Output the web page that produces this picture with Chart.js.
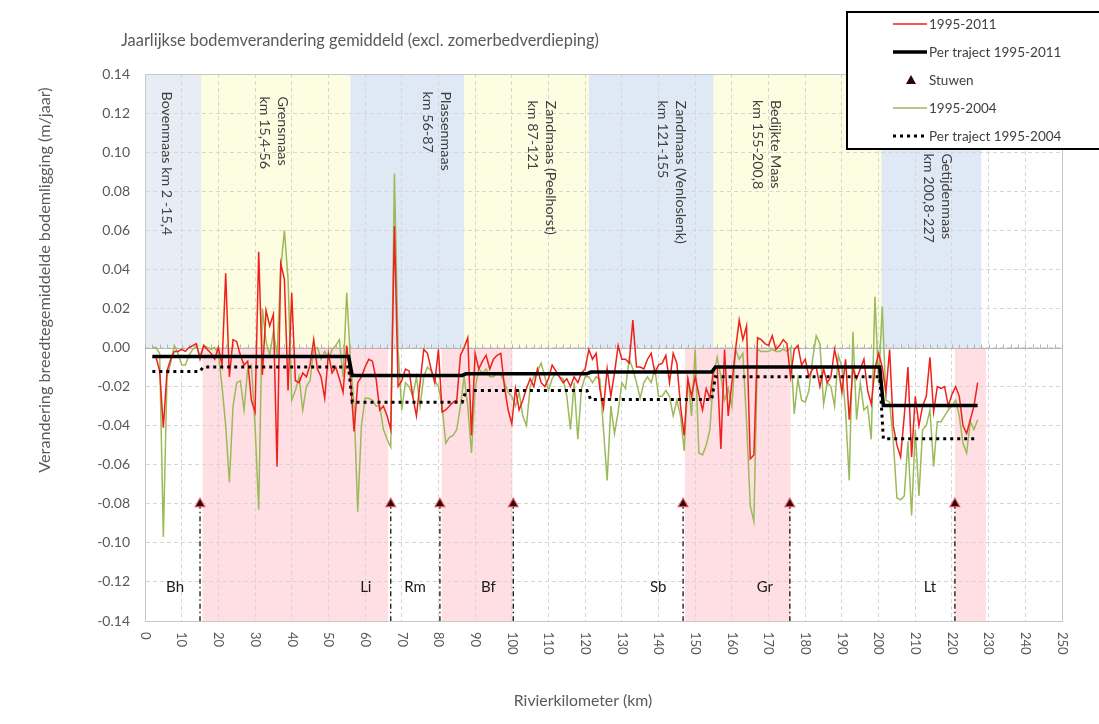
<!DOCTYPE html>
<html lang="nl">
<head>
<meta charset="utf-8">
<title>Jaarlijkse bodemverandering</title>
<script src="https://cdn.jsdelivr.net/npm/chart.js@4.4.1/dist/chart.umd.min.js"></script>
<style>
  html, body { margin: 0; padding: 0; background: #ffffff; }
  #holder { position: relative; width: 1099px; height: 724px; }
</style>
</head>
<body>
<div id="holder"><canvas id="chart" width="1099" height="724"></canvas></div>
<script>
// ---------------- data ----------------
// River kilometre of every cross-section average
const riverKm = [
  2,3,4,5,6,7,8,9,10,11,
  12,13,14,15,16,17,18,19,20,21,
  22,23,24,25,26,27,28,29,30,31,
  32,33,34,35,36,37,38,39,40,41,
  42,43,44,45,46,47,48,49,50,51,
  52,53,54,55,56,57,58,59,60,61,
  62,63,64,65,66,67,68,69,70,71,
  72,73,74,75,76,77,78,79,80,81,
  82,83,84,85,86,87,88,89,90,91,
  92,93,94,95,96,97,98,99,100,101,
  102,103,104,105,106,107,108,109,110,111,
  112,113,114,115,116,117,118,119,120,121,
  122,123,124,125,126,127,128,129,130,131,
  132,133,134,135,136,137,138,139,140,141,
  142,143,144,145,146,147,148,149,150,151,
  152,153,154,155,156,157,158,159,160,161,
  162,163,164,165,166,167,168,169,170,171,
  172,173,174,175,176,177,178,179,180,181,
  182,183,184,185,186,187,188,189,190,191,
  192,193,194,195,196,197,198,199,200,201,
  202,203,204,205,206,207,208,209,210,211,
  212,213,214,215,216,217,218,219,220,221,
  222,223,224,225,226,227
];

// Yearly bed level change (m/jaar), 1995-2011
const change1995_2011 = [
  -0.005,-0.005,-0.012,-0.041,-0.012,-0.006,-0.002,-0.002,-0.001,-0.002,
  0.000,0.001,0.002,-0.006,0.001,-0.001,-0.003,-0.006,0.000,-0.009,
  0.038,-0.015,0.004,0.003,-0.004,-0.009,-0.007,-0.027,-0.033,0.049,
  -0.014,0.019,0.011,0.017,-0.061,0.043,0.035,-0.022,0.028,-0.017,
  -0.018,-0.013,-0.015,-0.009,0.004,-0.011,-0.015,-0.026,-0.003,-0.013,
  -0.010,-0.016,-0.023,0.001,-0.016,-0.043,-0.018,-0.015,-0.010,-0.006,
  -0.007,-0.016,-0.032,-0.030,-0.035,-0.042,0.062,-0.020,-0.017,-0.011,
  -0.012,-0.025,-0.035,-0.018,-0.001,-0.003,-0.011,-0.018,-0.001,-0.033,
  -0.032,-0.030,-0.028,-0.027,-0.004,0.000,0.005,-0.045,-0.003,-0.011,
  -0.007,-0.004,-0.011,-0.006,-0.004,-0.003,-0.020,-0.032,-0.039,-0.021,
  -0.032,-0.027,-0.021,-0.016,-0.020,-0.011,-0.018,-0.020,-0.016,-0.009,
  -0.012,-0.015,-0.018,-0.016,-0.020,-0.015,-0.018,-0.013,-0.011,-0.001,
  -0.006,-0.003,-0.021,-0.031,-0.011,-0.025,-0.013,0.001,-0.006,-0.006,
  -0.008,0.014,-0.010,-0.010,-0.011,-0.006,-0.003,-0.013,-0.009,-0.008,
  -0.004,-0.018,-0.003,-0.008,-0.030,-0.045,-0.016,-0.025,-0.015,-0.024,
  -0.032,-0.021,-0.026,-0.011,-0.010,-0.052,-0.001,-0.035,-0.018,-0.001,
  0.014,0.004,0.011,-0.057,-0.055,0.005,0.004,0.002,0.001,0.006,
  -0.001,0.001,0.004,0.002,-0.015,-0.001,0.001,-0.009,-0.006,-0.015,
  -0.011,-0.010,-0.020,-0.011,-0.018,-0.015,-0.001,-0.010,-0.023,-0.006,
  -0.037,-0.011,-0.016,-0.011,-0.006,-0.022,-0.029,-0.011,-0.003,-0.010,
  -0.023,-0.001,-0.040,-0.050,-0.056,-0.035,-0.010,-0.056,-0.025,-0.040,
  -0.030,-0.025,-0.005,-0.033,-0.020,-0.021,-0.020,-0.030,-0.024,-0.020,
  -0.025,-0.040,-0.044,-0.037,-0.030,-0.018
];

// Yearly bed level change (m/jaar), 1995-2004
const change1995_2004 = [
  0.000,0.000,-0.003,-0.097,-0.015,-0.008,0.001,-0.003,-0.009,-0.009,
  -0.004,-0.001,0.001,-0.004,0.001,0.000,-0.001,0.000,-0.003,-0.020,
  -0.040,-0.069,-0.030,-0.018,-0.017,-0.032,-0.011,-0.009,-0.040,-0.083,
  0.020,0.003,-0.004,0.008,-0.004,0.040,0.060,0.035,-0.027,-0.022,
  -0.015,-0.032,-0.020,-0.017,-0.001,0.000,-0.006,-0.002,-0.006,-0.001,
  0.001,0.004,-0.015,0.028,-0.006,-0.030,-0.084,-0.040,-0.026,-0.026,
  -0.027,-0.030,-0.030,-0.042,-0.047,-0.051,0.089,-0.001,-0.032,-0.018,
  -0.020,-0.025,-0.015,-0.030,-0.015,-0.010,-0.012,-0.017,-0.020,-0.030,
  -0.049,-0.046,-0.045,-0.042,-0.030,-0.015,-0.030,-0.054,-0.021,-0.011,
  -0.013,-0.011,-0.015,-0.015,-0.013,-0.014,-0.018,-0.023,-0.025,-0.030,
  -0.023,-0.035,-0.040,-0.020,-0.015,-0.012,-0.008,-0.015,-0.022,-0.016,
  -0.013,-0.015,-0.016,-0.025,-0.042,-0.018,-0.047,-0.021,-0.015,-0.015,
  -0.018,-0.015,-0.016,-0.042,-0.068,-0.030,-0.044,-0.033,-0.018,-0.021,
  -0.006,-0.011,-0.018,-0.026,-0.018,-0.015,-0.018,-0.011,-0.025,-0.025,
  -0.022,-0.025,-0.035,-0.027,-0.035,-0.053,-0.015,-0.035,-0.001,-0.054,
  -0.055,-0.050,-0.042,-0.015,-0.005,-0.015,-0.027,-0.021,-0.030,-0.001,
  -0.006,-0.003,-0.038,-0.081,-0.089,-0.001,-0.002,-0.002,-0.002,-0.001,
  -0.002,-0.002,-0.001,-0.002,0.000,-0.034,-0.016,-0.027,-0.028,-0.022,
  -0.006,0.006,0.002,-0.029,-0.018,-0.020,-0.030,-0.004,-0.010,-0.033,
  -0.068,0.008,-0.037,-0.018,-0.032,-0.030,-0.047,0.026,-0.018,0.021,
  -0.027,-0.028,-0.048,-0.077,-0.078,-0.076,-0.048,-0.086,-0.042,-0.076,
  -0.042,-0.040,-0.032,-0.061,-0.038,-0.038,-0.035,-0.032,-0.030,-0.027,
  -0.035,-0.049,-0.054,-0.038,-0.042,-0.037
];

// Reach averages (traject boundaries in km, mean change per reach)
const reachBounds2011 = [2, 56, 87, 121, 155, 200.8, 227];
const reachMean2011   = [-0.0046, -0.0143, -0.0135, -0.0126, -0.0100, -0.0297];
const reachBounds2004 = [2, 15.4, 56, 87, 121, 155, 200.8, 227];
const reachMean2004   = [-0.0123, -0.0100, -0.0280, -0.0220, -0.0266, -0.0150, -0.0467];

// Weirs (stuwen)
const weirKm    = [15.0, 67.0, 80.4, 100.4, 146.7, 175.8, 220.8];
const weirLevel = [-0.08, -0.08, -0.08, -0.08, -0.08, -0.08, -0.08];
const weirCode  = ['Bh', 'Li', 'Rm', 'Bf', 'Sb', 'Gr', 'Lt'];

// River reaches shown as shaded columns in the upper half
const reachLabel = [
  ['Bovenmaas km 2 -15,4'],
  ['Grensmaas', 'km 15,4-56'],
  ['Plassenmaas', 'km 56-87'],
  ['Zandmaas (Peelhorst)', 'km 87-121'],
  ['Zandmaas (Venloslenk)', 'km 121-155'],
  ['Bedijkte Maas', 'km 155-200,8'],
  ['Getijdenmaas', 'km 200,8-227']
];
const reachFrom = [0, 15.4, 56, 87, 121, 155, 200.8];
const reachTo   = [15.4, 56, 87, 121, 155, 200.8, 228];

// Impounded stretches shown as shaded columns in the lower half
const poolFrom = [15.7, 80.9, 147.2, 220.8];
const poolTo   = [66.3, 100.2, 176.0, 229.3];

// Axis ticks
const kmTicks    = [0,10,20,30,40,50,60,70,80,90,100,110,120,130,140,150,160,170,180,190,200,210,220,230,240,250];
const levelTicks = [-0.14,-0.12,-0.10,-0.08,-0.06,-0.04,-0.02,0,0.02,0.04,0.06,0.08,0.10,0.12,0.14];

const chartTitle = 'Jaarlijkse bodemverandering gemiddeld (excl. zomerbedverdieping)';
const yTitle = 'Verandering breedtegemiddelde bodemligging (m/jaar)';
const xTitle = 'Rivierkilometer (km)';

// ---------------- styling / layout ----------------
const FONT = 'Lato, "Open Sans", "DejaVu Sans", sans-serif';
const AXIS_TEXT = '#595959';
const reachColors = ['#e8edf5', '#fdfde2', '#dfe9f5', '#fdfde2', '#dfe9f5', '#fdfde2', '#dfe9f5'];
const poolColor = '#ffdfe3';
// label column centre (km) and top (value) of each reach label
const reachLabelKm  = [5.9, 35.2, 79.5, 108.1, 143.6, 169.5, 216.2];
const reachLabelTop = [0.131, 0.1285, 0.131, 0.1264, 0.1264, 0.1267, 0.0993];
const weirLabelShift = -6.8;   // km, weir code sits left of its weir
const weirLabelLevel = -0.1225;

// helpers that turn the tables into x/y points
const seriesPoints = (xs, ys) => xs.map((x, i) => ({ x: x, y: ys[i] }));
function reachSteps(bounds, means) {
  const pts = [];
  means.forEach((m, i) => {
    const a = i === 0 ? bounds[i] : bounds[i] + 0.5;
    const b = i === means.length - 1 ? bounds[i + 1] : bounds[i + 1] - 0.5;
    pts.push({ x: a, y: m }, { x: b, y: m });
  });
  return pts;
}
function weirDropLines() {
  const pts = [];
  weirKm.forEach((k, i) => {
    pts.push({ x: k, y: weirLevel[i] }, { x: k, y: levelTicks[0] }, { x: k, y: null });
  });
  return pts;
}

// shaded reach columns, drawn beneath the grid
const bandPlugin = {
  id: 'reachBands',
  beforeDraw(chart) {
    const { ctx, chartArea: a, scales: { x, y } } = chart;
    const y0 = y.getPixelForValue(0);
    ctx.save();
    reachFrom.forEach((f, i) => {
      const x1 = x.getPixelForValue(f), x2 = x.getPixelForValue(reachTo[i]);
      ctx.fillStyle = reachColors[i];
      ctx.fillRect(x1, a.top, x2 - x1, y0 - a.top);
    });
    poolFrom.forEach((f, i) => {
      const x1 = x.getPixelForValue(f), x2 = x.getPixelForValue(poolTo[i]);
      ctx.fillStyle = poolColor;
      ctx.fillRect(x1, y0, x2 - x1, a.bottom - y0);
    });
    ctx.restore();
  },
  beforeDatasetsDraw(chart) {
    const { ctx, chartArea: a, scales: { x, y } } = chart;
    const y0 = Math.round(y.getPixelForValue(0)) + 0.5;
    ctx.save();
    // plot frame
    ctx.strokeStyle = '#c8c8c8';
    ctx.lineWidth = 1;
    ctx.strokeRect(Math.round(a.left) + 0.5, Math.round(a.top) + 0.5,
                   Math.round(a.right - a.left), Math.round(a.bottom - a.top));
    // horizontal axis through zero with minor ticks every 2 km
    ctx.strokeStyle = '#b4b4b4';
    ctx.beginPath();
    ctx.moveTo(a.left, y0);
    ctx.lineTo(a.right, y0);
    for (let k = 0; k <= 250; k += 2) {
      const px = Math.round(x.getPixelForValue(k)) + 0.5;
      ctx.moveTo(px, y0);
      ctx.lineTo(px, y0 - 4);
    }
    ctx.stroke();
    ctx.restore();
  },
  afterDraw(chart) {
    const { ctx, chartArea: a, scales: { x, y } } = chart;
    ctx.save();
    ctx.fillStyle = AXIS_TEXT;

    // x tick labels, turned a quarter clockwise
    ctx.font = '13px ' + FONT;
    ctx.textAlign = 'left';
    ctx.textBaseline = 'middle';
    x.ticks.forEach(t => {
      const px = x.getPixelForValue(t.value);
      ctx.save();
      ctx.translate(px, a.bottom + 11);
      ctx.rotate(Math.PI / 2);
      ctx.fillText(String(t.value), 0, 0);
      ctx.restore();
    });

    // chart title
    ctx.font = '16.4px ' + FONT;
    ctx.textAlign = 'left';
    ctx.textBaseline = 'middle';
    ctx.fillText(chartTitle, 121, 41);

    // axis titles
    ctx.font = '15.8px ' + FONT;
    ctx.textAlign = 'center';
    ctx.fillText(xTitle, 583, 701);
    ctx.font = '16.2px ' + FONT;
    ctx.save();
    ctx.translate(45, 280);
    ctx.rotate(-Math.PI / 2);
    ctx.fillText(yTitle, 0, 0);
    ctx.restore();

    // reach names, written downwards
    ctx.fillStyle = '#3f3f3f';
    ctx.font = '14.3px ' + FONT;
    ctx.textAlign = 'left';
    ctx.textBaseline = 'middle';
    reachLabel.forEach((lines, i) => {
      const cx = x.getPixelForValue(reachLabelKm[i]);
      const top = y.getPixelForValue(reachLabelTop[i]);
      const lh = 18;
      lines.forEach((txt, j) => {
        const off = (lines.length - 1) * lh / 2 - j * lh;
        ctx.save();
        ctx.translate(cx + off, top);
        ctx.rotate(Math.PI / 2);
        ctx.fillText(txt, 0, 0);
        ctx.restore();
      });
    });

    // weir codes
    ctx.fillStyle = '#1a1a1a';
    ctx.font = '15px ' + FONT;
    ctx.textAlign = 'center';
    weirCode.forEach((c, i) => {
      ctx.fillText(c, x.getPixelForValue(weirKm[i] + weirLabelShift), y.getPixelForValue(weirLabelLevel));
    });

    // legend box
    const L = { x: 847, y: 12, w: 262, h: 137 };
    ctx.fillStyle = '#ffffff';
    ctx.fillRect(L.x, L.y, L.w, L.h);
    ctx.lineWidth = 2;
    ctx.strokeStyle = '#000000';
    ctx.strokeRect(L.x, L.y, L.w, L.h);
    const entries = chart.data.datasets.filter(d => d.showInLegend)
      .sort((p, q) => p.legendRank - q.legendRank);
    ctx.font = '13.5px ' + FONT;
    ctx.textAlign = 'left';
    ctx.textBaseline = 'middle';
    entries.forEach((d, i) => {
      const ly = 24 + i * 28;
      ctx.save();
      if (d.pointStyle === 'triangle') {
        ctx.fillStyle = d.pointBackgroundColor;
        ctx.beginPath();
        ctx.moveTo(911, ly - 5);
        ctx.lineTo(916, ly + 4);
        ctx.lineTo(906, ly + 4);
        ctx.closePath();
        ctx.fill();
      } else {
        ctx.strokeStyle = d.borderColor;
        ctx.lineWidth = d.borderWidth;
        ctx.setLineDash(d.borderDash || []);
        ctx.beginPath();
        ctx.moveTo(893, ly);
        ctx.lineTo(927, ly);
        ctx.stroke();
      }
      ctx.restore();
      ctx.fillStyle = '#404040';
      ctx.fillText(d.label, 929, ly + 1);
    });
    ctx.restore();
  }
};

const ctx = document.getElementById('chart').getContext('2d');
new Chart(ctx, {
  type: 'line',
  data: {
    datasets: [
      {
        label: 'Stuwen', showInLegend: true, legendRank: 2,
        data: seriesPoints(weirKm, weirLevel),
        showLine: false, pointStyle: 'triangle', pointRadius: 5.5,
        pointBackgroundColor: '#2b0707', pointBorderColor: '#e2505c', pointBorderWidth: 1.2,
        borderColor: '#2b0707', order: 0
      },
      {
        label: 'stuwlijn', showInLegend: false,
        data: weirDropLines(),
        borderColor: '#111111', borderWidth: 1.3, borderDash: [5, 3, 1.5, 3],
        pointRadius: 0, spanGaps: false, order: 1
      },
      {
        label: 'Per traject 1995-2011', showInLegend: true, legendRank: 1,
        data: reachSteps(reachBounds2011, reachMean2011),
        borderColor: '#000000', borderWidth: 3.5, pointRadius: 0, order: 2
      },
      {
        label: 'Per traject 1995-2004', showInLegend: true, legendRank: 4,
        data: reachSteps(reachBounds2004, reachMean2004),
        borderColor: '#000000', borderWidth: 3, borderDash: [3, 4], pointRadius: 0, order: 3
      },
      {
        label: '1995-2011', showInLegend: true, legendRank: 0,
        data: seriesPoints(riverKm, change1995_2011),
        borderColor: '#f0201a', borderWidth: 1.5, pointRadius: 0, order: 4
      },
      {
        label: '1995-2004', showInLegend: true, legendRank: 3,
        data: seriesPoints(riverKm, change1995_2004),
        borderColor: '#9cba5a', borderWidth: 1.5, pointRadius: 0, order: 5
      }
    ]
  },
  options: {
    responsive: false,
    animation: false,
    events: [],
    layout: { padding: { left: 0, right: 37, top: 74, bottom: 0 } },
    plugins: { legend: { display: false }, title: { display: false }, tooltip: { enabled: false } },
    scales: {
      x: {
        type: 'linear', min: 0, max: 250,
        afterBuildTicks: s => { s.ticks = kmTicks.map(v => ({ value: v })); },
        afterFit: s => { s.height = 103; },
        ticks: { display: false },
        grid: { color: '#d6d6d6', lineWidth: 1, drawTicks: false },
        border: { display: true, color: '#bfbfbf', width: 1, dash: [4, 3] }
      },
      y: {
        type: 'linear', min: -0.14, max: 0.14,
        afterBuildTicks: s => { s.ticks = levelTicks.map(v => ({ value: v })); },
        afterFit: s => { s.width = 145; },
        ticks: {
          padding: 15, color: AXIS_TEXT,
          font: { family: FONT, size: 14 },
          callback: v => Number(v).toFixed(2)
        },
        grid: { color: '#d6d6d6', lineWidth: 1, drawTicks: false },
        border: { display: true, color: '#bfbfbf', width: 1, dash: [4, 3] }
      }
    }
  },
  plugins: [bandPlugin]
});
</script>
</body>
</html>
